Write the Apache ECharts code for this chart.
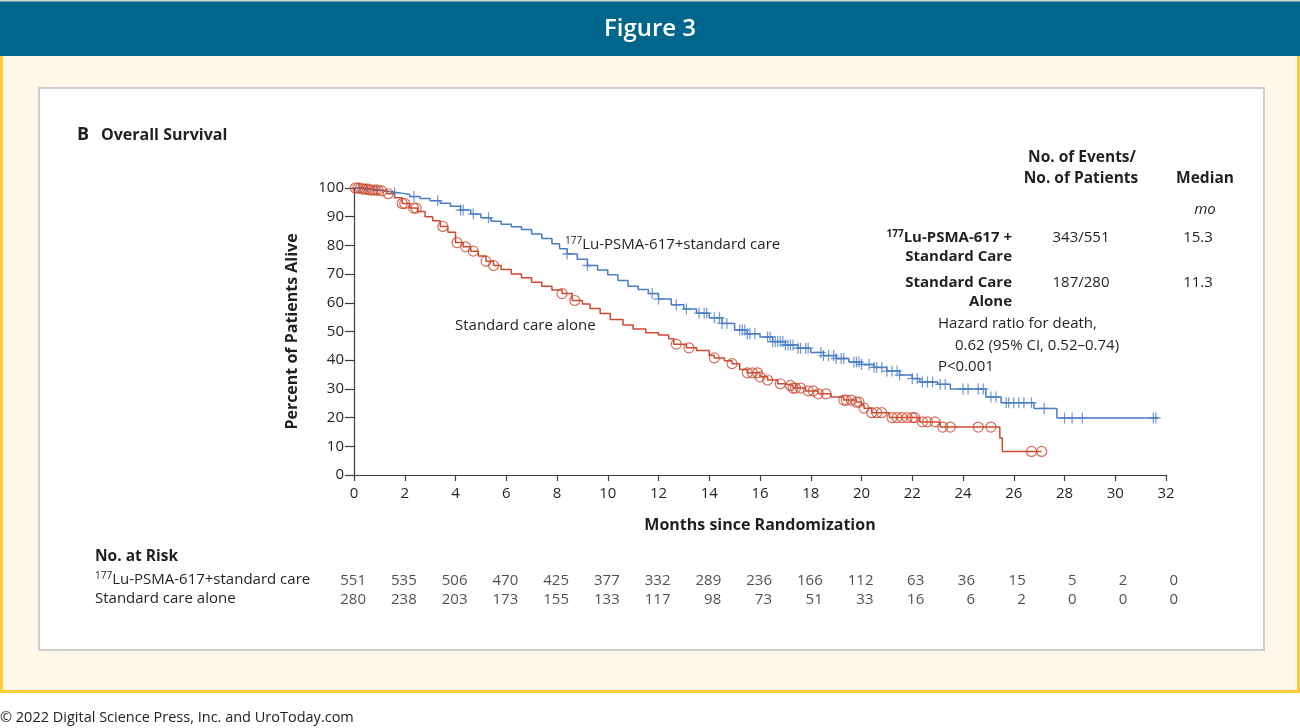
<!DOCTYPE html>
<html>
<head>
<meta charset="utf-8">
<script src="https://cdn.jsdelivr.net/npm/echarts@6/dist/echarts.min.js"></script>
<style>html,body{margin:0;padding:0;background:#fff;}#c{width:1300px;height:728px;}</style>
</head>
<body>
<div id="c"></div>
<script>
// ---- data ----
const xTicks = [0,2,4,6,8,10,12,14,16,18,20,22,24,26,28,30,32];
const yTicks = [0,10,20,30,40,50,60,70,80,90,100];

// 177Lu-PSMA-617 + standard care (Kaplan-Meier step points: month, % alive)
const luTimes = [0,0.3,0.7,1.0,1.4,1.8,2.2,2.6,3.0,3.4,3.8,4.2,4.6,5.0,5.4,5.8,6.2,6.6,7.0,7.4,7.8,8.1,8.4,8.8,9.2,9.6,10.0,10.4,10.8,11.2,11.6,12.0,12.5,13.0,13.5,14.0,14.5,15.0,15.5,16.0,16.5,17.0,17.5,18.0,18.5,19.0,19.5,20.0,20.5,21.0,21.5,22.0,22.3,23.0,23.5,24.9,25.5,26.8,27.7,31.7];
const luSurv  = [100,99.6,99.2,98.8,98.3,97.7,97.0,96.3,95.6,94.7,93.6,92.3,90.9,89.6,88.4,87.4,86.5,85.5,84.0,82.4,80.6,78.8,77.0,75.2,73.0,71.4,69.8,67.8,65.8,64.6,63.2,61.3,59.3,57.8,56.4,54.8,52.8,50.5,49.2,48.1,46.5,45.3,44.2,42.7,41.6,40.6,39.4,38.5,37.5,36.2,34.8,33.6,32.4,31.6,30.0,27.2,25.2,23.2,19.9,19.9];
const luCensor = [0.2,0.5,0.9,1.6,2.36,3.3,4.2,4.3,4.7,5.3,8.4,9.2,11.75,12.0,12.7,13.1,13.6,13.8,13.9,14.2,14.4,14.5,14.7,15.2,15.3,15.4,15.5,15.6,15.8,16.3,16.4,16.5,16.6,16.7,16.8,16.9,17.0,17.1,17.2,17.3,17.5,17.6,17.8,17.9,18.4,18.5,18.7,18.9,19.0,19.2,19.3,19.7,19.8,19.9,20.0,20.3,20.5,20.6,20.8,21.0,21.2,21.4,21.5,22.0,22.2,22.4,22.6,22.8,23.1,23.3,24.0,24.2,24.6,24.8,25.1,25.3,25.7,25.8,26.0,26.2,26.4,26.7,27.2,28.0,28.3,28.7,31.5,31.6];

// Standard care alone
const scTimes = [0,0.3,0.6,1.0,1.3,1.6,1.9,2.2,2.5,2.8,3.1,3.4,3.7,4.0,4.3,4.6,4.9,5.2,5.5,5.8,6.2,6.6,7.0,7.4,7.8,8.2,8.6,9.0,9.3,9.7,10.1,10.6,11.0,11.5,12.0,12.4,12.6,13.1,13.5,14.0,14.2,14.6,14.9,15.2,15.5,16.0,16.3,16.7,17.0,17.3,17.8,18.3,18.8,19.3,19.8,20.0,20.1,20.4,21.1,22.3,23.1,25.45,25.55,27.1];
const scSurv  = [100,99.6,99.3,99.0,98.0,96.6,94.6,93.0,91.8,90.0,88.6,86.6,84.6,81.0,79.5,78.0,76.3,74.5,73.0,71.6,70.0,68.7,67.2,65.8,64.5,63.2,60.8,59.6,58.0,56.3,54.2,52.3,50.9,49.6,48.8,47.5,45.6,44.3,43.4,41.6,40.8,39.8,38.8,36.8,35.6,34.2,33.1,31.8,31.2,30.3,29.3,28.3,27.2,26.1,25.4,24.4,23.3,21.7,20.0,18.5,16.7,12.9,8.2,8.2];
const scCensor = [0.05,0.15,0.25,0.35,0.45,0.55,0.65,0.75,0.85,0.95,1.1,1.35,1.9,2.0,2.35,2.45,3.5,4.06,4.4,4.7,5.2,5.5,8.2,8.7,12.7,13.2,14.2,14.9,15.5,15.7,15.9,16.0,16.3,16.8,17.2,17.3,17.4,17.6,17.9,18.1,18.3,18.6,19.3,19.4,19.6,19.8,19.9,20.1,20.4,20.6,20.8,21.2,21.4,21.6,21.8,22.0,22.1,22.4,22.6,22.9,23.2,23.5,24.6,25.1,26.7,27.1];

// Number at risk
const riskMonths = [0,2,4,6,8,10,12,14,16,18,20,22,24,26,28,30,32];
const luRisk = [551,535,506,470,425,377,332,289,236,166,112,63,36,15,5,2,0];
const scRisk = [280,238,203,173,155,133,117,98,73,51,33,16,6,2,0,0,0];

// ---- helpers ----
function survAt(times, surv, t) {
  let v = surv[0];
  for (let i = 0; i < times.length; i++) { if (times[i] <= t) v = surv[i]; else break; }
  return v;
}
const FF = "'Open Sans','Noto Sans',sans-serif";
const INK = '#231f20';
const BLUE = '#4a7dc4';
const RED = '#cd4a30';

const chart = echarts.init(document.getElementById('c'), null, {renderer: 'canvas'});

function txt(text, x, y, opt) {
  opt = opt || {};
  return {
    type: 'text', z: opt.z || 50,
    style: Object.assign({
      text: text, x: x, y: y,
      fill: opt.fill || INK,
      fontFamily: FF,
      fontSize: opt.size || 15,
      fontWeight: opt.weight || 'normal',
      fontStyle: opt.style || 'normal',
      textAlign: opt.align || 'left',
      textVerticalAlign: 'middle'
    }, opt.extra || {})
  };
}
function supTxt(sup, main, x, y, align, weight) {
  return {type: 'text', z: 50, style: {text: '{s|' + sup + '}{n|' + main + '}', x: x, y: y, textAlign: align, textVerticalAlign: 'middle', fill: INK,
    rich: {s: {fontFamily: FF, fontSize: 10, fontWeight: weight, fill: INK, verticalAlign: 'top', lineHeight: 18},
           n: {fontFamily: FF, fontSize: 15, fontWeight: weight, fill: INK, lineHeight: 18}}}};
}

const graphics = [
  {type: 'rect', z: -20, shape: {x: 0, y: 0, width: 1300, height: 728}, style: {fill: '#ffffff'}},
  {type: 'rect', z: -19, shape: {x: 1.5, y: 50, width: 1297, height: 641.5}, style: {fill: '#fff8e9', stroke: '#fbcf3c', lineWidth: 3}},
  {type: 'rect', z: -18, shape: {x: 0, y: 0, width: 1300, height: 56}, style: {fill: '#00668c'}},
  {type: 'rect', z: -17, shape: {x: 0, y: 0, width: 1300, height: 1.5}, style: {fill: '#c9d3d8'}},
  {type: 'rect', z: -16, shape: {x: 39, y: 88, width: 1225, height: 562}, style: {fill: '#ffffff', stroke: '#cfcfcf', lineWidth: 2}},
  txt('Figure 3', 650, 29, {size: 24, weight: 600, fill: '#ffffff', align: 'center'}),
  txt('© 2022 Digital Science Press, Inc. and UroToday.com', 0, 718, {size: 14.5, fill: '#222222'}),
  txt('B', 77, 135, {size: 18, weight: 'bold'}),
  txt('Overall Survival', 101, 135, {size: 16, weight: 'bold'}),
  // right-hand table
  txt('No. of Events/', 1082, 158, {size: 15.5, weight: 'bold', align: 'center'}),
  txt('No. of Patients', 1081, 179, {size: 15.5, weight: 'bold', align: 'center'}),
  txt('Median', 1205, 179, {size: 15.5, weight: 'bold', align: 'center'}),
  txt('mo', 1205, 210, {size: 15, style: 'italic', align: 'center'}),
  supTxt('177', 'Lu-PSMA-617 +', 1012, 238, 'right', 'bold'),
  txt('Standard Care', 1012, 257, {size: 15, weight: 'bold', align: 'right'}),
  txt('Standard Care', 1012, 283, {size: 15, weight: 'bold', align: 'right'}),
  txt('Alone', 1012, 302, {size: 15, weight: 'bold', align: 'right'}),
  txt('343/551', 1081, 238, {size: 15, align: 'center'}),
  txt('187/280', 1081, 283, {size: 15, align: 'center'}),
  txt('15.3', 1198, 238, {size: 15, align: 'center'}),
  txt('11.3', 1198, 283, {size: 15, align: 'center'}),
  txt('Hazard ratio for death,', 938, 324, {size: 15}),
  txt('0.62 (95% CI, 0.52–0.74)', 955, 346, {size: 15}),
  txt('P<0.001', 938, 367, {size: 15}),
  // curve labels
  supTxt('177', 'Lu-PSMA-617+standard care', 565, 245, 'left', 'normal'),
  txt('Standard care alone', 455, 326, {size: 15}),
  // number at risk
  txt('No. at Risk', 95, 557, {size: 15.5, weight: 'bold'}),
  supTxt('177', 'Lu-PSMA-617+standard care', 95, 580, 'left', 'normal'),
  txt('Standard care alone', 95, 599, {size: 15})
];

const plusPath = 'path://M-0.6,-5H0.6V-0.6H5V0.6H0.6V5H-0.6V0.6H-5V-0.6H-0.6Z';
const AX = '#3c3c3c';

const option = {
  animation: false,
  backgroundColor: 'transparent',
  graphic: graphics,
  grid: [
    {left: 354, top: 188, width: 812, height: 287, containLabel: false},
    {left: 354, top: 581, width: 812, height: 19, containLabel: false}
  ],
  xAxis: [
    {
      type: 'value', gridIndex: 0, min: 0, max: 32, interval: 2,
      axisLine: {show: true, lineStyle: {color: AX, width: 1.2}},
      axisTick: {show: true, length: 6, lineStyle: {color: AX, width: 1.2}},
      splitLine: {show: false},
      axisLabel: {color: INK, fontFamily: FF, fontSize: 15, margin: 11},
      name: 'Months since Randomization', nameLocation: 'middle', nameGap: 42,
      nameTextStyle: {color: INK, fontFamily: FF, fontSize: 16, fontWeight: 'bold'}
    },
    {type: 'value', gridIndex: 1, min: 0, max: 32, show: false}
  ],
  yAxis: [
    {
      type: 'value', gridIndex: 0, min: 0, max: 100, interval: 10,
      axisLine: {show: true, lineStyle: {color: AX, width: 1.2}},
      axisTick: {show: true, length: 9, lineStyle: {color: AX, width: 1.2}},
      splitLine: {show: false},
      axisLabel: {color: INK, fontFamily: FF, fontSize: 15, margin: 10},
      name: 'Percent of Patients Alive', nameLocation: 'middle', nameGap: 54, nameRotate: 90,
      nameTextStyle: {color: INK, fontFamily: FF, fontSize: 16, fontWeight: 'bold'}
    },
    {type: 'value', gridIndex: 1, min: 0, max: 1, show: false}
  ],
  series: [
    {type: 'line', name: 'lu', step: 'end', showSymbol: false, symbol: 'none', z: 3,
     data: luTimes.map((t, i) => [t, luSurv[i]]),
     lineStyle: {color: BLUE, width: 1.5}},
    {type: 'line', name: 'sc', step: 'end', showSymbol: false, symbol: 'none', z: 3,
     data: scTimes.map((t, i) => [t, scSurv[i]]),
     lineStyle: {color: RED, width: 1.5}},
    {type: 'scatter', name: 'luCens', symbol: plusPath, symbolSize: [10, 11], z: 4,
     data: luCensor.map(t => [t, survAt(luTimes, luSurv, t)]),
     itemStyle: {color: BLUE}},
    {type: 'scatter', name: 'scCens', symbol: 'circle', symbolSize: 10, z: 4,
     data: scCensor.map(t => [t, survAt(scTimes, scSurv, t)]),
     itemStyle: {color: 'rgba(0,0,0,0)', borderColor: RED, borderWidth: 1.2}},
    {type: 'scatter', name: 'luRisk', xAxisIndex: 1, yAxisIndex: 1, symbolSize: 1, silent: true,
     itemStyle: {color: 'rgba(0,0,0,0)'},
     data: riskMonths.map((m, i) => [m, 1, luRisk[i]]),
     label: {show: true, position: 'inside', align: 'right', verticalAlign: 'middle', offset: [12, 0],
             formatter: p => String(p.value[2]), color: INK, fontFamily: FF, fontSize: 15}},
    {type: 'scatter', name: 'scRisk', xAxisIndex: 1, yAxisIndex: 1, symbolSize: 1, silent: true,
     itemStyle: {color: 'rgba(0,0,0,0)'},
     data: riskMonths.map((m, i) => [m, 0, scRisk[i]]),
     label: {show: true, position: 'inside', align: 'right', verticalAlign: 'middle', offset: [12, 0],
             formatter: p => String(p.value[2]), color: INK, fontFamily: FF, fontSize: 15}}
  ]
};
chart.setOption(option);
</script>
</body>
</html>
